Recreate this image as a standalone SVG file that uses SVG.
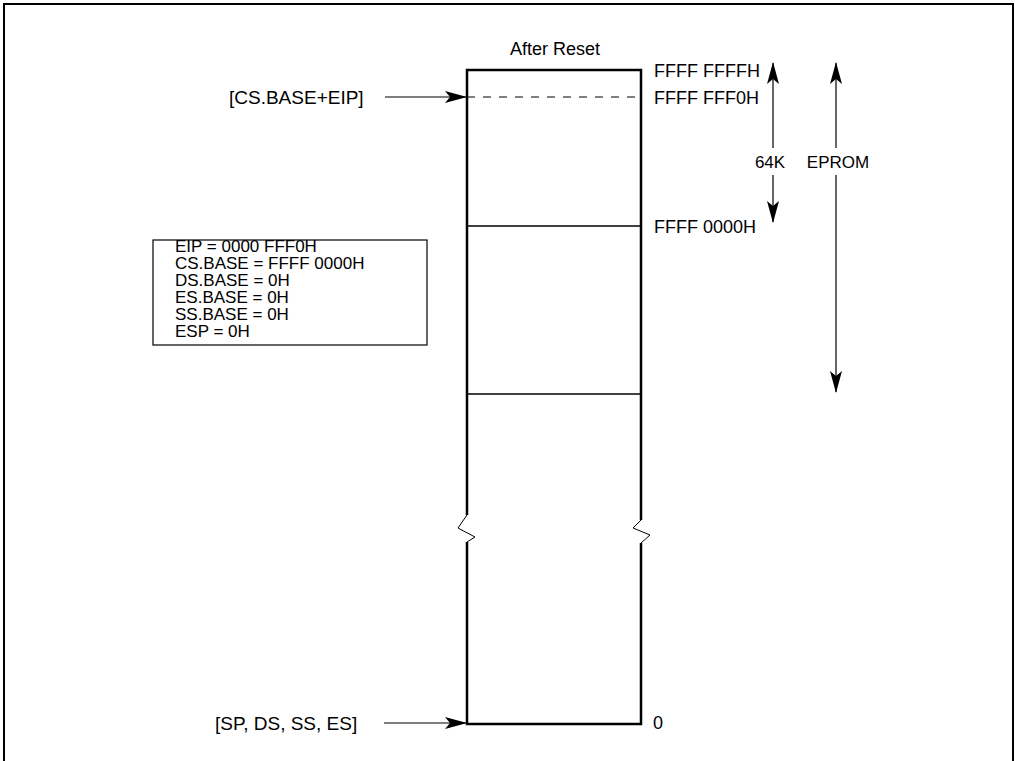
<svg xmlns="http://www.w3.org/2000/svg" width="1015" height="761" viewBox="0 0 1015 761">
<style>
text{font-family:"Liberation Sans",Arial,sans-serif;font-size:17px;fill:#000}
.lbl{font-size:19px}
.addr{font-size:18px}
.thick{stroke:#000;stroke-width:2.5;fill:none}
.thin{stroke:#000;stroke-width:1.3;fill:none}
.arr{stroke:#000;stroke-width:1.2;fill:none;marker-end:url(#ah)}
.zig{stroke:#000;stroke-width:1;fill:none}
</style>
<defs>
<marker id="ah" markerUnits="userSpaceOnUse" viewBox="0 0 22 12" refX="21" refY="6" markerWidth="22" markerHeight="12" orient="auto">
<path d="M0,0 L22,6 L0,12 L5,6 z" fill="#000"/>
</marker>
</defs>
<rect width="1015" height="761" fill="#fff"/>
<path d="M4,761 V4 H1013 V761" stroke="#000" stroke-width="2" fill="none"/>

<g id="memory">
<text x="555" y="55" text-anchor="middle" class="addr">After Reset</text>
<path class="thick" d="M467,515 V70 H641 V520"/>
<path class="thick" d="M467,542 V724 H641 V543"/>
<path class="zig" d="M467,515 L458,528 L475,537 L467,542"/>
<path class="zig" d="M641,520 L633,528 L650,535 L641,543"/>
<line x1="467" y1="97" x2="641" y2="97" stroke="#000" stroke-width="1" stroke-dasharray="8,8"/>
<line class="thin" x1="467" y1="226" x2="641" y2="226"/>
<line class="thin" x1="467" y1="394" x2="641" y2="394"/>
</g>

<g id="addresses">
<text x="654" y="77" class="addr">FFFF FFFFH</text>
<text x="654" y="104" class="addr">FFFF FFF0H</text>
<text x="654" y="233" class="addr">FFFF 0000H</text>
<text x="653" y="729" class="addr">0</text>
</g>

<g id="regbox">
<rect x="153" y="240" width="274" height="105" fill="none" stroke="#000" stroke-width="1.2"/>
<text x="175" y="252">EIP = 0000 FFF0H</text>
<text x="175" y="269">CS.BASE = FFFF 0000H</text>
<text x="175" y="286">DS.BASE = 0H</text>
<text x="175" y="303">ES.BASE = 0H</text>
<text x="175" y="320">SS.BASE = 0H</text>
<text x="175" y="337">ESP = 0H</text>
</g>

<g id="label-csbase">
<text x="229" y="104" class="lbl">[CS.BASE+EIP]</text>
</g>
<g id="label-sp">
<text x="215" y="730" class="lbl">[SP, DS, SS, ES]</text>
</g>
<g id="label-64k">
<text x="770" y="168" text-anchor="middle">64K</text>
</g>
<g id="label-eprom">
<text x="838" y="168" text-anchor="middle">EPROM</text>
</g>

<g id="connectors">
<line class="arr" x1="385" y1="97" x2="466" y2="97"/>
<line class="arr" x1="384" y1="723" x2="466" y2="723"/>
<line class="arr" x1="773" y1="148" x2="773" y2="63"/>
<line class="arr" x1="773" y1="175" x2="773" y2="222"/>
<line class="arr" x1="836" y1="148" x2="836" y2="63"/>
<line class="arr" x1="836" y1="175" x2="836" y2="392"/>
</g>
</svg>
